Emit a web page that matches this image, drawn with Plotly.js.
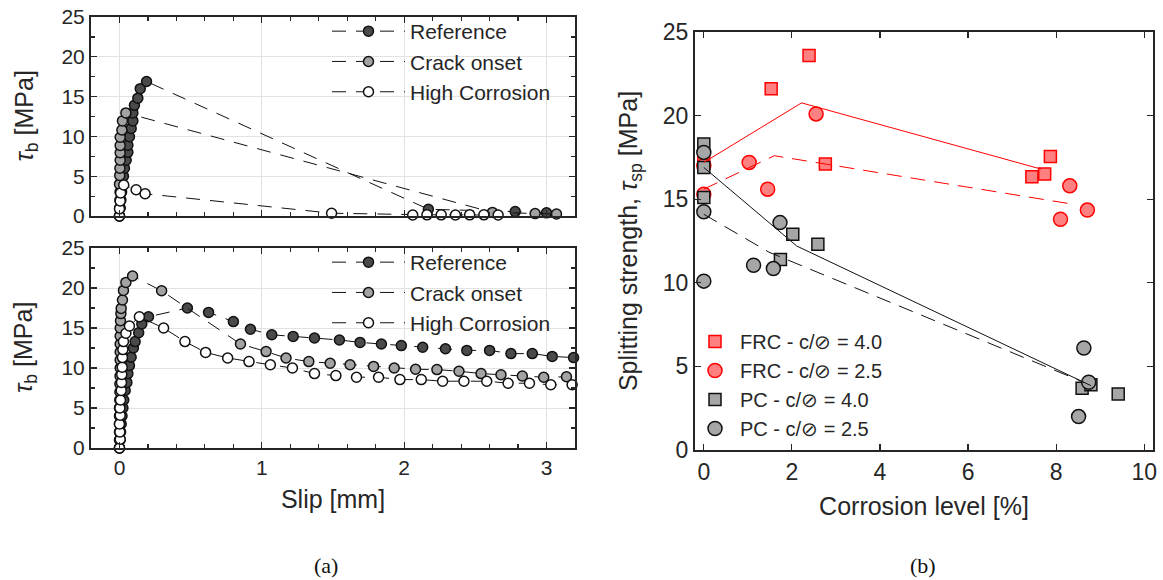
<!DOCTYPE html>
<html>
<head>
<meta charset="utf-8">
<script src="https://cdn.plot.ly/plotly-3.0.1.min.js"></script>
<style>html,body{margin:0;padding:0;background:#fff;}#chart{width:1163px;height:580px;}</style>
</head>
<body>
<div id="chart"></div>
<script>
// ---------- Panel (a) top : bond stress - slip ----------
var topRefSlip  = [0, 0.005, 0.01, 0.015, 0.02, 0.028, 0.035, 0.047, 0.059, 0.059, 0.07, 0.082, 0.094, 0.094, 0.105, 0.129, 0.146, 0.19, 2.17, 2.78, 3.0];
var topRefTau   = [0, 1, 2, 3, 4, 5, 6, 7, 8, 8.9, 9.95, 11.0, 11.95, 12.95, 13.9, 14.8, 16.0, 16.9, 0.85, 0.55, 0.4];
var topCrackSlip = [0, 0.002, 0.003, 0.004, 0.0, 0.002, 0.003, 0.005, 0.005, 0.005, 0.005, 0.017, 0.021, 0.045, 2.62, 2.92, 3.07];
var topCrackTau  = [0, 1, 2, 3, 4, 5.1, 6, 7, 7.95, 8.85, 9.9, 10.8, 11.95, 12.95, 0.45, 0.3, 0.25];
var topHighSlip = [0, 0.0, 0.005, 0.008, 0.03, 0.117, 0.18, 1.49, 2.06, 2.16, 2.26, 2.36, 2.46, 2.56, 2.66];
var topHighTau  = [0, 0.9, 1.9, 2.9, 3.9, 3.3, 2.8, 0.35, 0.12, 0.15, 0.15, 0.12, 0.15, 0.15, 0.12];

// ---------- Panel (a) bottom ----------
var botRefSlip = [0, 0.005, 0.008, 0.012, 0.018, 0.024, 0.03, 0.04, 0.052, 0.059, 0.07, 0.082, 0.098, 0.11, 0.135, 0.157, 0.204,
                  0.477, 0.626, 0.80, 0.92, 1.07, 1.22, 1.37, 1.545, 1.69, 1.84, 1.98, 2.13, 2.29, 2.44, 2.6, 2.75, 2.9, 3.04, 3.19];
var botRefTau  = [0, 1, 2, 3, 4, 5, 6, 7.2, 8.2, 9.3, 10.3, 11.35, 12.5, 13.3, 14.4, 15.5, 16.4,
                  17.5, 16.95, 15.8, 14.85, 14.15, 13.95, 13.75, 13.5, 13.2, 13.0, 12.8, 12.6, 12.4, 12.2, 12.2, 11.8, 11.8, 11.45, 11.3];
var botCrackSlip = [0, 0.0, 0.0, 0.0, 0.0, 0.0, 0.002, 0.003, 0.003, 0.004, 0.005, 0.005, 0.005, 0.005, 0.005, 0.005, 0.007, 0.01, 0.012, 0.021, 0.028, 0.045, 0.092,
                    0.296, 0.85, 1.03, 1.17, 1.33, 1.48, 1.62, 1.785, 1.93, 2.08, 2.23, 2.385, 2.54, 2.68, 2.83, 2.98, 3.14];
var botCrackTau  = [0, 1, 2, 3, 4, 5, 6, 7, 8, 9, 10, 11, 12, 13, 14, 15, 15.9, 16.8, 17.45, 18.5, 19.7, 20.7, 21.5,
                    19.65, 13.0, 12.05, 11.25, 10.8, 10.6, 10.4, 10.2, 10.0, 9.85, 9.8, 9.6, 9.3, 9.15, 9.0, 8.85, 8.9];
var botHighSlip = [0, 0.005, 0.003, 0.0, 0.005, 0.003, 0.007, 0.012, 0.014, 0.016, 0.019, 0.021, 0.024, 0.028, 0.045, 0.07, 0.14,
                   0.31, 0.46, 0.605, 0.76, 0.91, 1.06, 1.215, 1.37, 1.52, 1.665, 1.82, 1.97, 2.12, 2.27, 2.42, 2.58, 2.73, 2.88, 3.03, 3.18];
var botHighTau  = [0, 1.1, 2, 3, 4.1, 5, 6, 7.2, 8.2, 9.2, 10.1, 11.3, 12.3, 13.3, 14.35, 15.25, 16.4,
                   15.0, 13.3, 11.95, 11.25, 10.8, 10.4, 10.0, 9.3, 9.05, 8.85, 8.85, 8.55, 8.55, 8.35, 8.35, 8.35, 8.1, 8.1, 7.9, 7.9];

// ---------- Panel (b) : splitting strength vs corrosion ----------
var frc40X = [0, 1.53, 2.39, 2.76, 7.45, 7.74, 7.87];
var frc40Y = [17.2, 21.6, 23.6, 17.1, 16.35, 16.5, 17.55];
var frc25X = [0, 0, 1.03, 1.45, 2.55, 8.1, 8.31, 8.71];
var frc25Y = [17.0, 15.3, 17.2, 15.6, 20.1, 13.8, 15.8, 14.35];
var pc40X = [0, 0, 0, 1.74, 2.02, 2.59, 8.59, 8.79, 9.41];
var pc40Y = [18.3, 16.9, 15.1, 11.4, 12.9, 12.3, 3.7, 3.9, 3.35];
var pc25X = [0, 0, 0, 1.13, 1.58, 1.73, 8.63, 8.74, 8.51];
var pc25Y = [17.8, 14.25, 10.1, 11.05, 10.85, 13.6, 6.1, 4.05, 2.0];
// trend lines (group means)
var frc40TrendX = [0, 2.22, 7.66];
var frc40TrendY = [17.2, 20.76, 16.8];
var frc25TrendX = [0, 1.6, 8.38];
var frc25TrendY = [15.6, 17.6, 14.7];
var pc40TrendX = [0, 2.11, 8.79];
var pc40TrendY = [16.9, 12.2, 3.85];
var pc25TrendX = [0, 1.48, 8.63];
var pc25TrendY = [14.1, 11.83, 4.05];

var seriesNames = ['Reference', 'Crack onset', 'High Corrosion'];
var legendNamesB = ['FRC - c/\u2298 = 4.0', 'FRC - c/\u2298 = 2.5', 'PC - c/\u2298 = 4.0', 'PC - c/\u2298 = 2.5'];
var tauTitle = '<i>\u03c4</i><sub>b</sub> [MPa]';

var FONT = 'Arial, "Liberation Sans", sans-serif';
var INK = '#262626';
var fills = ['#4a4a4a', '#a3a3a3', '#ffffff'];
var dashA = '14px,10px';

function slipTrace(x, y, i, xa, ya, leg) {
  return {
    type: 'scatter', mode: 'lines+markers', x: x, y: y, name: seriesNames[i],
    xaxis: xa, yaxis: ya, legend: leg, cliponaxis: false,
    line: {color: '#111111', width: 1, dash: dashA},
    marker: {symbol: 'circle', size: 10, color: fills[i], line: {color: '#111111', width: 1.5}}
  };
}

var data = [
  slipTrace(topRefSlip, topRefTau, 0, 'x', 'y', 'legend'),
  slipTrace(topCrackSlip, topCrackTau, 1, 'x', 'y', 'legend'),
  slipTrace(topHighSlip, topHighTau, 2, 'x', 'y', 'legend'),
  slipTrace(botRefSlip, botRefTau, 0, 'x2', 'y2', 'legend2'),
  slipTrace(botCrackSlip, botCrackTau, 1, 'x2', 'y2', 'legend2'),
  slipTrace(botHighSlip, botHighTau, 2, 'x2', 'y2', 'legend2'),
  // panel b markers
  {type: 'scatter', mode: 'markers', x: frc40X, y: frc40Y, name: legendNamesB[0], xaxis: 'x3', yaxis: 'y3', legend: 'legend3', cliponaxis: false,
   marker: {symbol: 'square', size: 12, color: '#ff8080', line: {color: '#ff0000', width: 1.5}}},
  {type: 'scatter', mode: 'markers', x: frc25X, y: frc25Y, name: legendNamesB[1], xaxis: 'x3', yaxis: 'y3', legend: 'legend3', cliponaxis: false,
   marker: {symbol: 'circle', size: 14, color: '#ff8080', line: {color: '#ff0000', width: 1.5}}},
  {type: 'scatter', mode: 'markers', x: pc40X, y: pc40Y, name: legendNamesB[2], xaxis: 'x3', yaxis: 'y3', legend: 'legend3', cliponaxis: false,
   marker: {symbol: 'square', size: 12, color: '#a6a6a6', line: {color: '#111111', width: 1.5}}},
  {type: 'scatter', mode: 'markers', x: pc25X, y: pc25Y, name: legendNamesB[3], xaxis: 'x3', yaxis: 'y3', legend: 'legend3', cliponaxis: false,
   marker: {symbol: 'circle', size: 14, color: '#a6a6a6', line: {color: '#111111', width: 1.5}}},
  // trend lines
  {type: 'scatter', mode: 'lines', x: frc40TrendX, y: frc40TrendY, xaxis: 'x3', yaxis: 'y3', showlegend: false, line: {color: '#ff0000', width: 1}},
  {type: 'scatter', mode: 'lines', x: frc25TrendX, y: frc25TrendY, xaxis: 'x3', yaxis: 'y3', showlegend: false, line: {color: '#ff0000', width: 1, dash: '15px,9px'}},
  {type: 'scatter', mode: 'lines', x: pc40TrendX, y: pc40TrendY, xaxis: 'x3', yaxis: 'y3', showlegend: false, line: {color: '#111111', width: 1}},
  {type: 'scatter', mode: 'lines', x: pc25TrendX, y: pc25TrendY, xaxis: 'x3', yaxis: 'y3', showlegend: false, line: {color: '#111111', width: 1, dash: '15px,9px'}}
];

var W = 1163, H = 580;
function px(v) { return v / W; }
function py(v) { return 1 - v / H; }

function leftX(anchor, labels, title) {
  var ax = {
    domain: [px(91), px(575)], anchor: anchor, range: [-0.2, 3.2], dtick: 1, tick0: 0,
    showticklabels: labels, ticks: 'inside', ticklen: 6, tickwidth: 1.2, tickcolor: INK,
    minor: {dtick: 0.2, ticks: 'inside', ticklen: 4, tickwidth: 1.2, tickcolor: INK, showgrid: false},
    showline: true, linewidth: 2, linecolor: INK, mirror: 'ticks',
    showgrid: true, gridcolor: '#e2e2e2', gridwidth: 1, zeroline: false,
    tickfont: {family: FONT, size: 21, color: INK}
  };
  if (title) ax.title = {text: title, font: {family: FONT, size: 25, color: INK}, standoff: 12};
  return ax;
}
function leftY(anchor, dom) {
  return {
    domain: dom, anchor: anchor, range: [0, 25], dtick: 5, tick0: 0,
    ticks: 'inside', ticklen: 6, tickwidth: 1.2, tickcolor: INK,
    minor: {dtick: 2.5, ticks: 'inside', ticklen: 4, tickwidth: 1.2, tickcolor: INK, showgrid: false},
    showline: true, linewidth: 2, linecolor: INK, mirror: 'ticks',
    showgrid: true, gridcolor: '#e2e2e2', gridwidth: 1, zeroline: false,
    tickfont: {family: FONT, size: 21, color: INK}
  };
}

var layout = {
  width: W, height: H, autosize: false,
  margin: {l: 0, r: 0, t: 0, b: 0},
  paper_bgcolor: '#ffffff', plot_bgcolor: '#ffffff',
  font: {family: FONT, color: INK},
  xaxis: leftX('y', false, null),
  yaxis: leftY('x', [py(216), py(17)]),
  xaxis2: leftX('y2', true, 'Slip [mm]'),
  yaxis2: leftY('x2', [py(448), py(248)]),
  xaxis3: {
    domain: [px(695), px(1153)], anchor: 'y3', range: [-0.2, 10.2], dtick: 2, tick0: 0,
    ticks: 'inside', ticklen: 6, tickwidth: 1.2, tickcolor: INK,
    showline: true, linewidth: 2, linecolor: INK, mirror: 'ticks', showgrid: false, zeroline: false,
    tickfont: {family: FONT, size: 23, color: INK},
    title: {text: 'Corrosion level [%]', font: {family: FONT, size: 25, color: INK}, standoff: 14}
  },
  yaxis3: {
    domain: [py(450), py(32)], anchor: 'x3', range: [0, 25], dtick: 5, tick0: 0,
    ticks: 'inside', ticklen: 6, tickwidth: 1.2, tickcolor: INK,
    showline: true, linewidth: 2, linecolor: INK, mirror: 'ticks', showgrid: false, zeroline: false,
    tickfont: {family: FONT, size: 23, color: INK},
    title: {text: 'Splitting strength, <i>\u03c4</i><sub>sp</sub> [MPa]', font: {family: FONT, size: 25, color: INK}, standoff: 18}
  },
  legend: {x: px(327), y: py(11), xanchor: 'left', yanchor: 'top', bgcolor: 'rgba(0,0,0,0)', borderwidth: 0,
           font: {family: FONT, size: 21, color: INK}, itemwidth: 73, tracegroupgap: 0},
  legend2: {x: px(327), y: py(242), xanchor: 'left', yanchor: 'top', bgcolor: 'rgba(0,0,0,0)', borderwidth: 0,
            font: {family: FONT, size: 21, color: INK}, itemwidth: 73, tracegroupgap: 0},
  legend3: {x: px(690), y: py(322), xanchor: 'left', yanchor: 'top', bgcolor: 'rgba(0,0,0,0)', borderwidth: 0,
            font: {family: FONT, size: 20, color: INK}, itemwidth: 40, tracegroupgap: 0},
  annotations: [
    {text: tauTitle, xref: 'paper', yref: 'paper', x: px(25), y: py(116.5), textangle: -90, showarrow: false,
     font: {family: FONT, size: 25, color: INK}, xanchor: 'center', yanchor: 'middle'},
    {text: tauTitle, xref: 'paper', yref: 'paper', x: px(25), y: py(348), textangle: -90, showarrow: false,
     font: {family: FONT, size: 25, color: INK}, xanchor: 'center', yanchor: 'middle'},
    {text: '(a)', xref: 'paper', yref: 'paper', x: px(326), y: py(565), showarrow: false,
     font: {family: '"Liberation Serif", "Times New Roman", serif', size: 22, color: '#111'}, xanchor: 'center', yanchor: 'middle'},
    {text: '(b)', xref: 'paper', yref: 'paper', x: px(923), y: py(565), showarrow: false,
     font: {family: '"Liberation Serif", "Times New Roman", serif', size: 22, color: '#111'}, xanchor: 'center', yanchor: 'middle'}
  ],
  showlegend: true
};

Plotly.newPlot('chart', data, layout, {staticPlot: true, displayModeBar: false});
</script>
</body>
</html>
